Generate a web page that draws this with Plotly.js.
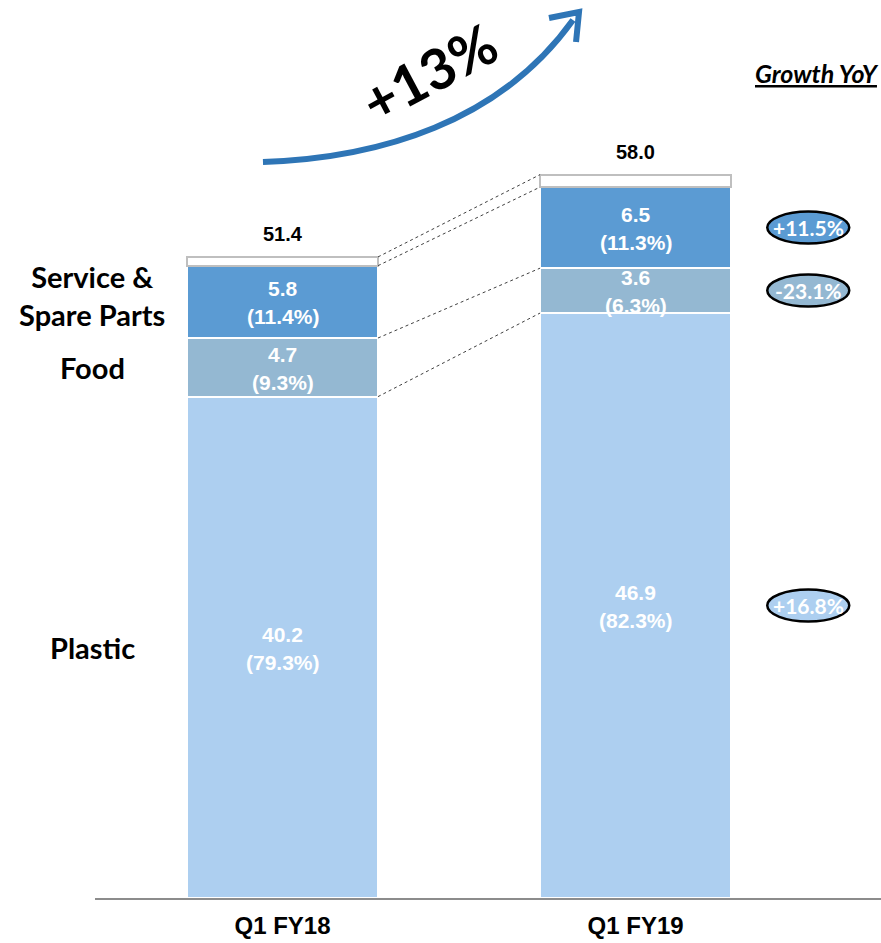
<!DOCTYPE html>
<html>
<head>
<meta charset="utf-8">
<script src="https://cdn.plot.ly/plotly-3.0.1.min.js"></script>
<style>html,body{margin:0;padding:0;background:#fff;}#chart{width:881px;height:943px;}</style>
</head>
<body>
<div id="chart"></div>
<script>
const categories = ['Q1 FY18', 'Q1 FY19'];
const plastic = [40.2, 46.9];
const food = [4.7, 3.6];
const service = [5.8, 6.5];
const totals = [51.4, 58.0];
const plasticPct = ['79.3%', '82.3%'];
const foodPct = ['9.3%', '6.3%'];
const servicePct = ['11.4%', '11.3%'];
const segmentNames = ['Plastic', 'Food', 'Service &<br>Spare Parts'];
const growthYoY = ['+16.8%', '-23.1%', '+11.5%'];
const headline = '+13%';

const other = totals.map((t, i) => +(t - plastic[i] - food[i] - service[i]).toFixed(2));
const xs = [0, 1];
const barW = 0.541;

const cPlastic = 'rgb(173,207,240)';
const cFood = 'rgb(148,184,210)';
const cService = 'rgb(91,155,211)';
const arial = 'Liberation Sans, Arial, sans-serif';
const calibri = 'Lato, Open Sans, sans-serif';

const traces = [
  {type: 'bar', x: xs, y: plastic, width: barW, marker: {color: cPlastic, line: {color: '#fff', width: 2}}, hoverinfo: 'none'},
  {type: 'bar', x: xs, y: food, width: barW, marker: {color: cFood, line: {color: '#fff', width: 2}}, hoverinfo: 'none'},
  {type: 'bar', x: xs, y: service, width: barW, marker: {color: cService, line: {color: '#fff', width: 2}}, hoverinfo: 'none'},
  {type: 'bar', x: xs, y: other, width: barW, marker: {color: '#fff', line: {color: '#BFBFBF', width: 2}}, hoverinfo: 'none'}
];

const annotations = [];
const shapes = [];
const segs = [plastic, food, service];
const pcts = [plasticPct, foodPct, servicePct];
const mids = [[], [], []];
xs.forEach((x, i) => {
  let base = 0;
  segs.forEach((s, k) => {
    const mid = base + s[i] / 2;
    mids[k][i] = mid;
    annotations.push({x: x, y: mid, xref: 'x', yref: 'y', text: '<b>' + s[i].toFixed(1) + '</b>', showarrow: false, yshift: 13,
      font: {family: arial, size: 21, color: '#fff', weight: 700}});
    annotations.push({x: x, y: mid, xref: 'x', yref: 'y', text: '<b>(' + pcts[k][i] + ')</b>', showarrow: false, yshift: -15,
      font: {family: arial, size: 21, color: '#fff', weight: 700}});
    base += s[i];
  });
  annotations.push({x: x, y: totals[i], xref: 'x', yref: 'y', text: '<b>' + totals[i].toFixed(1) + '</b>', showarrow: false, yshift: 23,
    font: {family: arial, size: 20, color: '#000', weight: 700}});
});

// segment names at left
const nameShift = [0, 0, 6];
segmentNames.forEach((n, k) => {
  annotations.push({x: 0, xref: 'paper', y: mids[k][0], yref: 'y', text: '<b>' + n + '</b>', showarrow: false, xanchor: 'center', yanchor: 'middle', xshift: -3, yshift: nameShift[k],
    font: {family: calibri, size: 29, color: '#000', weight: 700}});
});

// connector lines
const levels0 = [plastic[0], plastic[0] + food[0], plastic[0] + food[0] + service[0], totals[0]];
const levels1 = [plastic[1], plastic[1] + food[1], plastic[1] + food[1] + service[1], totals[1]];
levels0.forEach((l, j) => {
  shapes.push({type: 'line', xref: 'x', yref: 'y', x0: xs[0] + barW / 2, x1: xs[1] - barW / 2, y0: l, y1: levels1[j],
    line: {color: '#404040', width: 1, dash: 'dot'}});
});

// growth ovals
const ovalColors = [cPlastic, cFood, cService];
const ovalX = 1.489;
growthYoY.forEach((g, k) => {
  shapes.push({type: 'circle', xref: 'x', yref: 'y', xsizemode: 'pixel', ysizemode: 'pixel', xanchor: ovalX, yanchor: mids[k][1],
    x0: -41, x1: 41, y0: -16, y1: 16, fillcolor: ovalColors[k], line: {color: '#000', width: 2.5}, layer: 'above'});
  annotations.push({x: ovalX, y: mids[k][1], xref: 'x', yref: 'y', text: '<b>' + g + '</b>', showarrow: false,
    font: {family: calibri, size: 21, color: '#fff', weight: 800}});
});

annotations.push({x: 1, xref: 'paper', xanchor: 'right', yanchor: 'middle', y: (898 - 73) / 898, yref: 'paper', text: '<b><i><u>Growth YoY</u></i></b>', showarrow: false,
  font: {family: calibri, size: 25, color: '#000', weight: 700, style: 'italic'}});

// headline arrow (decoration, in pixel-derived paper coords)
const PX = p => ((p - 95) / 786).toFixed(4);
const PY = p => ((898 - p) / 898).toFixed(4);
shapes.push({type: 'path', xref: 'paper', yref: 'paper',
  path: `M ${PX(263)},${PY(162)} C ${PX(380)},${PY(158)} ${PX(500)},${PY(122)} ${PX(573)},${PY(20)}`,
  line: {color: 'rgb(46,117,182)', width: 6}});
shapes.push({type: 'path', xref: 'paper', yref: 'paper',
  path: `M ${PX(549)},${PY(18)} L ${PX(579)},${PY(12)} L ${PX(576)},${PY(42)}`,
  line: {color: 'rgb(46,117,182)', width: 6}});
annotations.push({x: PX(428), y: PY(72), xref: 'paper', yref: 'paper', xanchor: 'center', yanchor: 'middle', text: '<b>' + headline + '</b>', showarrow: false, textangle: -28,
  font: {family: calibri, size: 56, color: '#000', weight: 900}});

const layout = {
  width: 881, height: 943,
  margin: {l: 95, r: 0, t: 0, b: 45},
  barmode: 'stack', showlegend: false,
  paper_bgcolor: '#fff', plot_bgcolor: '#fff',
  xaxis: {range: [-0.531, 1.695], tickvals: xs, ticktext: categories, showgrid: false, zeroline: false,
    showline: true, linecolor: '#8c8c8c', linewidth: 2, ticks: '', ticklabelstandoff: 5,
    tickfont: {family: arial, size: 24, color: '#000', weight: 700}, fixedrange: true},
  yaxis: {range: [0, 72.0], visible: false, fixedrange: true},
  annotations: annotations,
  shapes: shapes
};

Plotly.newPlot('chart', traces, layout, {displayModeBar: false, staticPlot: true});
</script>
</body>
</html>
